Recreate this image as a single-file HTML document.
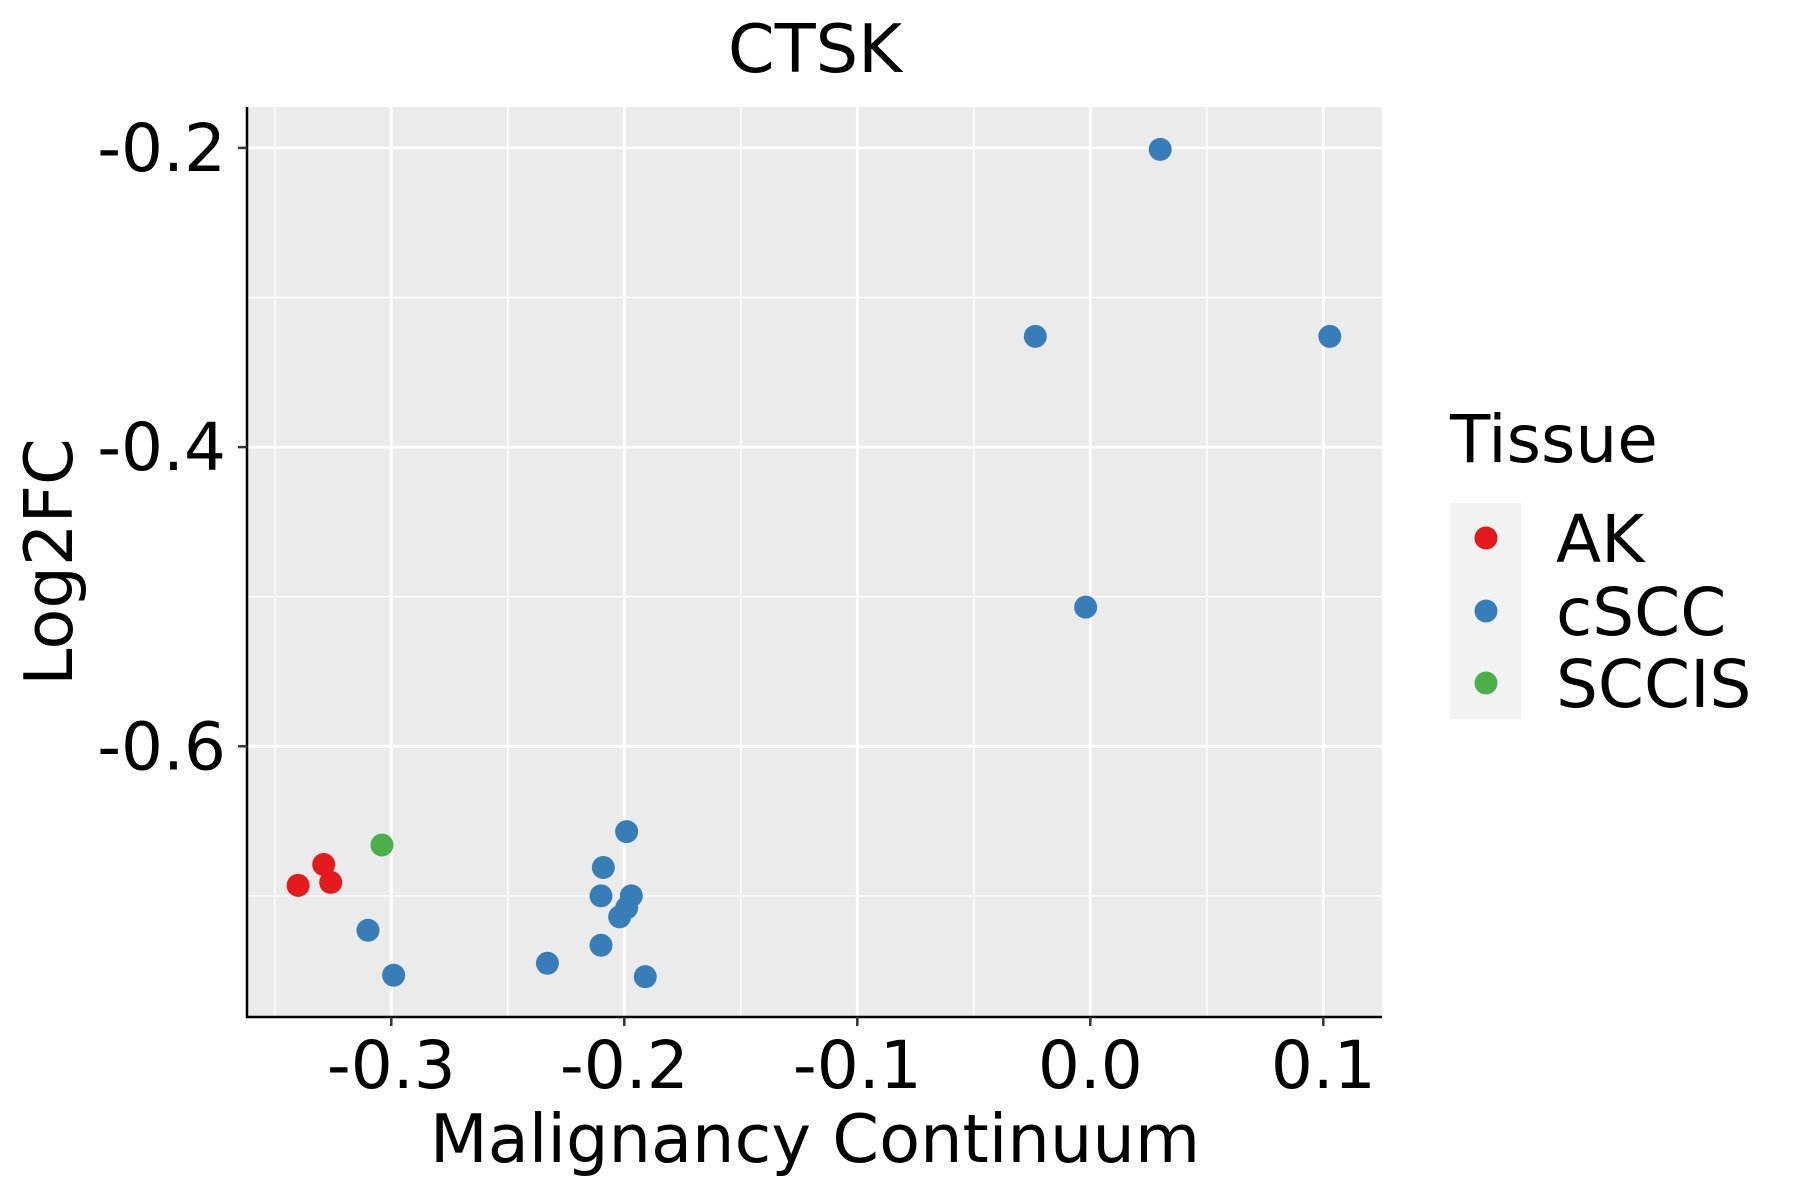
<!DOCTYPE html>
<html><head><meta charset="utf-8"><style>
html,body{margin:0;padding:0;background:#fff;}
svg{display:block;font-family:"DejaVu Sans","Liberation Sans",sans-serif;}
</style></head><body>
<svg id="chart" width="1800" height="1200" viewBox="0 0 1800 1200" xmlns="http://www.w3.org/2000/svg">
<rect x="0" y="0" width="1800" height="1200" fill="#fff"/>
<text x="815" y="72" font-size="67" text-anchor="middle" fill="#000">CTSK</text>
<rect x="247" y="107" width="1135" height="910" fill="#ebebeb"/>
<g id="grid"></g>
<g id="points"></g>
<line x1="247" y1="107" x2="247" y2="1018" stroke="#000" stroke-width="2.5"/>
<line x1="246" y1="1017" x2="1382" y2="1017" stroke="#000" stroke-width="2.5"/>
<g id="ticks"></g>
<text x="815" y="1162" font-size="67" text-anchor="middle" fill="#000">Malignancy Continuum</text>
<text x="0" y="0" font-size="67" text-anchor="middle" fill="#000" transform="translate(72,562) rotate(-90)">Log2FC</text>
<g>
<text x="1450" y="462" font-size="66" fill="#000">Tissue</text>
<rect x="1450" y="503" width="71" height="216" fill="#f2f2f2"/>
<circle cx="1486" cy="538" r="11.5" fill="#e41a1c"/>
<circle cx="1486" cy="611" r="11.5" fill="#377eb8"/>
<circle cx="1486" cy="683" r="11.5" fill="#4daf4a"/>
<text x="1556" y="562" font-size="66" fill="#000">AK</text>
<text x="1556" y="635" font-size="66" fill="#000">cSCC</text>
<text x="1556" y="707" font-size="66" fill="#000">SCCIS</text>
</g>
</svg>
<script>
const xTicks = [-0.3, -0.2, -0.1, 0.0, 0.1];
const xTickLabels = ["-0.3", "-0.2", "-0.1", "0.0", "0.1"];
const xMinor = [-0.35, -0.25, -0.15, -0.05, 0.05];
const yTicks = [-0.2, -0.4, -0.6];
const yTickLabels = ["-0.2", "-0.4", "-0.6"];
const yMinor = [-0.3, -0.5, -0.7];
const groups = ["AK","AK","AK","SCCIS","cSCC","cSCC","cSCC","cSCC","cSCC","cSCC","cSCC","cSCC","cSCC","cSCC","cSCC","cSCC","cSCC","cSCC","cSCC"];
const xValues = [-0.329,-0.340,-0.326,-0.304,0.030,-0.0236,0.1028,-0.002,-0.199,-0.209,-0.210,-0.197,-0.199,-0.202,-0.210,-0.233,-0.191,-0.299,-0.310];
const yValues = [-0.679,-0.693,-0.691,-0.666,-0.201,-0.326,-0.326,-0.507,-0.657,-0.681,-0.700,-0.700,-0.708,-0.714,-0.733,-0.745,-0.754,-0.753,-0.723];
const colors = {AK:"#e41a1c", cSCC:"#377eb8", SCCIS:"#4daf4a"};

const NS = "http://www.w3.org/2000/svg";
function xs(v){ return 1090.3 + v*2330; }
function ys(v){ return 147.9 + (-0.2 - v)*1496; }
function mk(tag, attrs, parent){ const e=document.createElementNS(NS,tag); for(const k in attrs) e.setAttribute(k,attrs[k]); parent.appendChild(e); return e; }
const grid=document.getElementById('grid'), pts=document.getElementById('points'), ticks=document.getElementById('ticks');
xMinor.forEach(v=>{ const l=mk('line',{x1:xs(v),x2:xs(v),y1:107,y2:1017,stroke:'#fff','stroke-width':1.4},grid);
 
  });
yMinor.forEach(v=>{ const l=mk('line',{x1:247,x2:1382,y1:ys(v),y2:ys(v),stroke:'#fff','stroke-width':1.4},grid);
 
  });
xTicks.forEach((v,i)=>{ const l=mk('line',{x1:xs(v),x2:xs(v),y1:107,y2:1017,stroke:'#fff','stroke-width':2.8},grid);
 
 
 const t=mk('line',{x1:xs(v),x2:xs(v),y1:1017,y2:1026,stroke:'#333','stroke-width':2.5},ticks);
 
 
 const tx=mk('text',{x:xs(v),y:1088,'font-size':66,'text-anchor':'middle',fill:'#000'},ticks);
 tx.textContent=xTickLabels[i];
 
  });
yTicks.forEach((v,i)=>{ const l=mk('line',{x1:247,x2:1382,y1:ys(v),y2:ys(v),stroke:'#fff','stroke-width':2.8},grid);
 
 
 const t=mk('line',{x1:238,x2:247,y1:ys(v),y2:ys(v),stroke:'#333','stroke-width':2.5},ticks);
 
 
 const tx=mk('text',{x:226,y:ys(v)+23,'font-size':66,'text-anchor':'end',fill:'#000'},ticks);
 tx.textContent=yTickLabels[i];
 
  });
xValues.forEach((v,i)=>{ const c=mk('circle',{cx:xs(v),cy:ys(yValues[i]),r:11.5,fill:colors[groups[i]]},pts);
 
  });
</script>
</body></html>
